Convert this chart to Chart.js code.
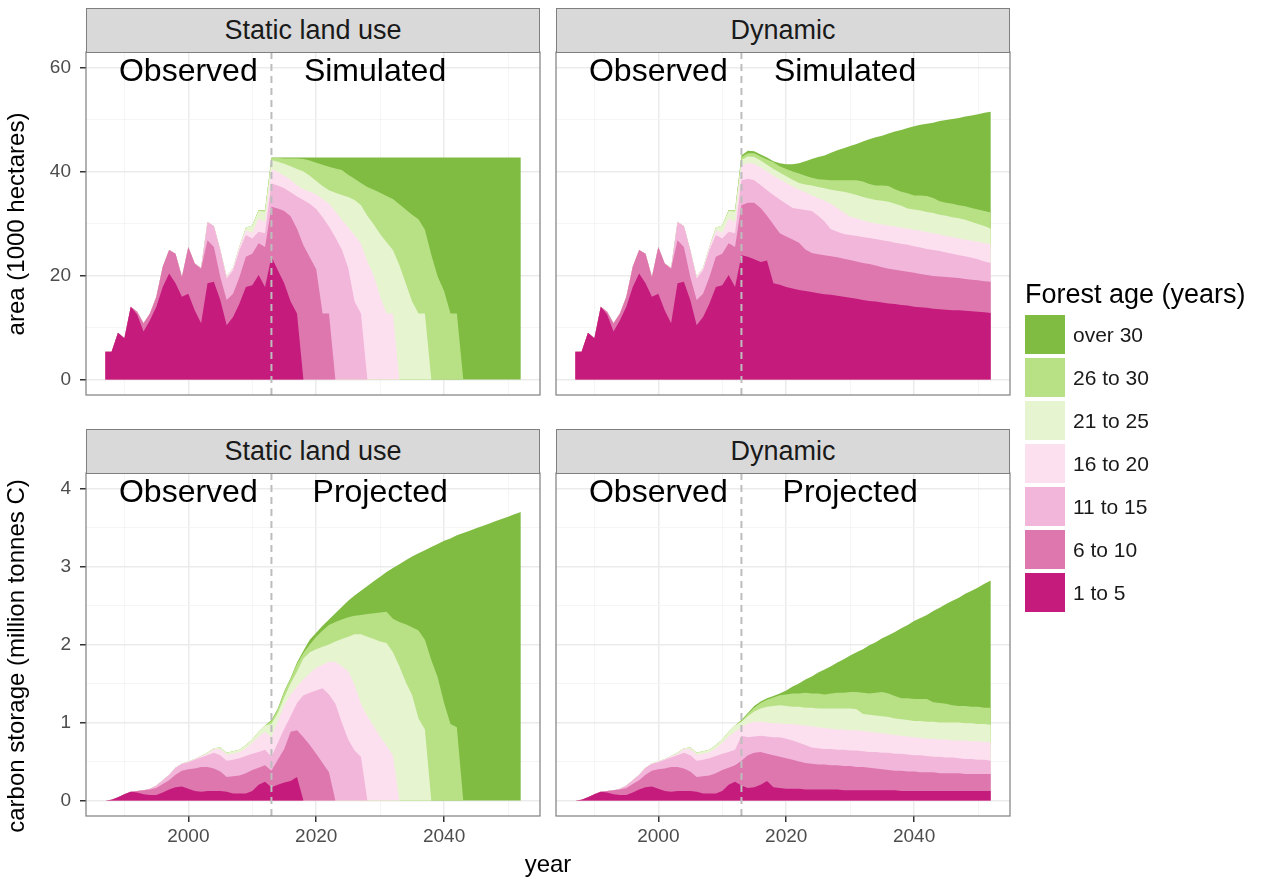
<!DOCTYPE html>
<html>
<head>
<meta charset="utf-8">
<script src="https://cdn.jsdelivr.net/npm/chart.js@4.4.1/dist/chart.umd.min.js"></script>
<style>
  html, body { margin: 0; padding: 0; background: #fff; }
  #page { position: relative; width: 1262px; height: 881px; overflow: hidden;
          font-family: "Liberation Sans", Arial, Helvetica, sans-serif; }
  #page canvas { position: absolute; left: 0; top: 0; }
  .strip { position: absolute; box-sizing: border-box; height: 45px; background: #d9d9d9;
           border: 1px solid #7f7f7f; color: #1a1a1a; font-size: 27px; line-height: 42px;
           text-align: center; }
  .xtitle { position: absolute; left: 448px; width: 200px; top: 849px; height: 30px;
            line-height: 30px; text-align: center; font-size: 24px; color: #000; }
  .ytitle { position: absolute; width: 440px; height: 28px; line-height: 28px; text-align: center;
            font-size: 24px; color: #000; white-space: nowrap; transform: rotate(-90deg);
            transform-origin: 50% 50%; }
  #legend { position: absolute; left: 1025px; top: 279px; }
  #legend .ltitle { font-size: 27px; line-height: 30px; color: #000; white-space: nowrap; }
  #legend .row { position: relative; height: 43px; }
  #legend .key { position: absolute; left: 0; top: 0; width: 40px; height: 39px; }
  #legend .lab { position: absolute; left: 48px; top: 0; height: 39px; line-height: 39px;
                 font-size: 21px; color: #1a1a1a; white-space: nowrap; }
</style>
</head>
<body>
<div id="page">
  <canvas id="areaStatic" width="1262" height="881"></canvas>
  <canvas id="areaDynamic" width="1262" height="881"></canvas>
  <canvas id="carbonStatic" width="1262" height="881"></canvas>
  <canvas id="carbonDynamic" width="1262" height="881"></canvas>
  <div class="strip" style="left:86px; top:8px; width:454px;">Static land use</div>
  <div class="strip" style="left:556px; top:8px; width:454px;">Dynamic</div>
  <div class="strip" style="left:86px; top:429px; width:454px;">Static land use</div>
  <div class="strip" style="left:556px; top:429px; width:454px;">Dynamic</div>
  <div class="ytitle" style="left:-204px; top:210px;">area (1000 hectares)</div>
  <div class="ytitle" style="left:-204px; top:642px;">carbon storage (million tonnes C)</div>
  <div class="xtitle">year</div>
  <div id="legend"><div class="ltitle">Forest age (years)</div><div style="height:6px"></div></div>
</div>
<script>
const obsYears = [1987, 1988, 1989, 1990, 1991, 1992, 1993, 1994, 1995, 1996, 1997, 1998, 1999,
  2000, 2001, 2002, 2003, 2004, 2005, 2006, 2007, 2008, 2009, 2010, 2011, 2012]
const simYears = [2013, 2014, 2015, 2016, 2017, 2018, 2019, 2020, 2021, 2022,
  2023, 2024, 2025, 2026, 2027, 2028, 2029, 2030, 2031, 2032,
  2033, 2034, 2035, 2036, 2037, 2038, 2039, 2040, 2041, 2042,
  2043, 2044, 2045, 2046, 2047, 2048, 2049, 2050, 2051, 2052]

const ageClasses = ['1 to 5', '6 to 10', '11 to 15', '16 to 20', '21 to 25', '26 to 30', 'over 30']
const ageColors = ['#c51b7d', '#de77ae', '#f1b6da', '#fde0ef', '#e6f5d0', '#b8e186', '#7fbc41']

const xTicks = [1990, 2000, 2010, 2020, 2030, 2040, 2050]
const xLabels = [2000, 2020, 2040]
const areaTicks = [0, 10, 20, 30, 40, 50, 60]
const areaLabels = [0, 20, 40, 60]
const carbonTicks = [0, 0.5, 1, 1.5, 2, 2.5, 3, 3.5, 4]
const carbonLabels = [0, 1, 2, 3, 4]
const dividerYear = 2013
const areaPeriodYears = [2000, 2029.2]
const carbonPeriodYears = [2000, 2030]

// area (1000 ha) by age class, observed 1987-2012 (same in both scenarios)
const obsArea = [
  [5.3, 5.3, 9.0, 7.9, 14.0, 12.5, 9.2, 11.4, 14.0, 17.8, 20.4, 18.5, 15.9, 16.5, 13.3, 10.8, 18.5, 18.8, 15.3, 10.4, 12.0, 14.6, 17.8, 18.1, 20.1, 17.8],
  [0, 0, 0, 0, 0, 0.5, 1.6, 1.3, 1.9, 3.9, 4.5, 5.7, 3.8, 9.0, 9.0, 10.5, 8.3, 6.7, 4.4, 4.9, 4.5, 5.1, 5.8, 6.1, 6.1, 7.7],
  [0, 0, 0, 0, 0, 0, 0, 0, 0, 0, 0, 0, 0, 0, 0, 0.2, 3.5, 4.0, 5.2, 4.1, 4.5, 5.2, 4.2, 2.9, 2.2, 2.6],
  [0, 0, 0, 0, 0, 0, 0, 0, 0, 0, 0, 0, 0, 0, 0, 0, 0, 0, 0, 0.4, 0.5, 0.7, 0.9, 1.1, 2.6, 2.2],
  [0, 0, 0, 0, 0, 0, 0, 0, 0, 0, 0, 0, 0, 0, 0, 0, 0, 0, 0, 0, 0, 0, 0.5, 1.4, 1.4, 2.0],
  [0, 0, 0, 0, 0, 0, 0, 0, 0, 0, 0, 0, 0, 0, 0, 0, 0, 0, 0, 0, 0, 0, 0, 0, 0.2, 0.3],
  [0, 0, 0, 0, 0, 0, 0, 0, 0, 0, 0, 0, 0, 0, 0, 0, 0, 0, 0, 0, 0, 0, 0, 0, 0, 0],
]

// area, simulated 2013-2052, static land use
const staticArea = [
  [23.6, 21.0, 18.5, 15.0, 12.7, 0, 0, 0, 0, 0, 0, 0, 0, 0, 0, 0, 0, 0, 0, 0, 0, 0, 0, 0, 0, 0, 0, 0, 0, 0, 0, 0, 0, 0, 0, 0, 0, 0, 0, 0],
  [9.6, 11.9, 13.9, 16.4, 16.3, 25.8, 23.5, 21.2, 12.7, 12.7, 0, 0, 0, 0, 0, 0, 0, 0, 0, 0, 0, 0, 0, 0, 0, 0, 0, 0, 0, 0, 0, 0, 0, 0, 0, 0, 0, 0, 0, 0],
  [4.5, 4.4, 4.4, 4.6, 6.2, 8.7, 10.3, 11.6, 18.5, 16.7, 27.3, 25.0, 21.5, 15.0, 12.7, 0, 0, 0, 0, 0, 0, 0, 0, 0, 0, 0, 0, 0, 0, 0, 0, 0, 0, 0, 0, 0, 0, 0, 0, 0],
  [2.8, 2.6, 2.4, 2.4, 2.1, 2.1, 2.3, 2.8, 3.5, 4.4, 5.0, 5.7, 7.8, 12.8, 13.4, 22.7, 20.0, 16.0, 12.7, 12.7, 0, 0, 0, 0, 0, 0, 0, 0, 0, 0, 0, 0, 0, 0, 0, 0, 0, 0, 0, 0],
  [1.7, 2.0, 2.3, 2.6, 3.2, 3.4, 3.1, 2.6, 2.5, 2.6, 3.6, 4.8, 5.8, 6.7, 7.4, 8.8, 9.8, 12.0, 13.7, 12.2, 22.0, 18.5, 15.0, 12.7, 12.7, 0, 0, 0, 0, 0, 0, 0, 0, 0, 0, 0, 0, 0, 0, 0],
  [0.4, 0.7, 1.0, 1.5, 2.0, 2.4, 2.9, 3.5, 4.1, 4.5, 4.7, 4.8, 4.3, 4.1, 4.3, 5.5, 6.7, 7.9, 8.9, 9.8, 11.7, 14.2, 16.7, 18.1, 16.1, 24.0, 19.8, 17.0, 12.7, 12.7, 0, 0, 0, 0, 0, 0, 0, 0, 0, 0],
  [0.1, 0.1, 0.2, 0.2, 0.2, 0.3, 0.6, 1.0, 1.4, 1.8, 2.1, 2.4, 3.3, 4.1, 4.9, 5.7, 6.2, 6.8, 7.4, 8.0, 9.0, 10.0, 11.0, 11.9, 13.9, 18.7, 22.9, 25.7, 30.0, 30.0, 42.7, 42.7, 42.7, 42.7, 42.7, 42.7, 42.7, 42.7, 42.7, 42.7],
]

// area, simulated 2013-2052, dynamic land use
const dynamicArea = [
  [23.9, 23.6, 23.1, 22.6, 22.9, 18.5, 18.2, 17.8, 17.5, 17.2, 17.0, 16.8, 16.6, 16.4, 16.3, 16.1, 15.9, 15.7, 15.5, 15.3, 15.1, 15.0, 14.8, 14.6, 14.5, 14.3, 14.2, 14.0, 13.9, 13.8, 13.6, 13.5, 13.4, 13.3, 13.3, 13.2, 13.1, 13.0, 12.9, 12.8],
  [9.6, 10.4, 10.9, 10.4, 8.6, 11.3, 9.9, 9.7, 9.4, 9.1, 8.0, 7.5, 7.5, 7.5, 7.4, 7.4, 7.3, 7.3, 7.2, 7.1, 7.1, 6.9, 6.8, 6.7, 6.6, 6.6, 6.5, 6.5, 6.4, 6.3, 6.3, 6.3, 6.3, 6.3, 6.2, 6.1, 6.1, 6.1, 6.0, 6.0],
  [4.8, 4.6, 4.3, 4.4, 4.9, 5.7, 6.5, 6.3, 6.1, 6.5, 7.6, 8.1, 7.4, 6.5, 5.2, 4.9, 4.8, 4.8, 4.9, 5.0, 5.0, 5.1, 5.2, 5.3, 5.2, 5.2, 5.2, 5.1, 5.1, 5.0, 5.0, 4.9, 4.7, 4.6, 4.4, 4.4, 4.2, 4.0, 3.8, 3.6],
  [2.9, 3.1, 3.2, 3.4, 3.6, 3.7, 3.9, 4.0, 4.1, 3.7, 3.4, 3.0, 3.4, 4.0, 4.9, 4.6, 4.1, 3.5, 3.4, 3.2, 3.1, 3.0, 3.0, 3.0, 3.1, 3.1, 3.1, 3.2, 3.2, 3.2, 3.2, 3.2, 3.2, 3.2, 3.2, 3.2, 3.3, 3.4, 3.5, 3.6],
  [1.0, 1.2, 1.3, 1.3, 1.3, 1.3, 1.3, 1.3, 1.3, 1.3, 1.5, 1.9, 2.1, 2.4, 2.7, 3.3, 4.0, 4.5, 4.5, 4.5, 4.5, 4.5, 4.6, 4.6, 4.4, 4.2, 3.9, 3.9, 3.9, 3.9, 3.9, 3.8, 3.9, 3.8, 3.9, 3.8, 3.6, 3.4, 3.3, 3.0],
  [0.6, 0.6, 0.7, 0.8, 1.0, 1.3, 1.2, 1.4, 1.6, 1.8, 1.7, 1.5, 1.5, 1.6, 1.8, 2.0, 2.2, 2.5, 2.8, 3.0, 2.8, 2.8, 2.9, 3.0, 2.8, 2.7, 2.9, 2.7, 2.9, 3.1, 2.9, 2.6, 2.5, 2.6, 2.5, 2.6, 2.7, 2.8, 2.9, 3.1],
  [0.3, 0.5, 0.4, 0.4, 0.4, 0.2, 0.6, 0.9, 1.4, 2.0, 2.8, 3.6, 4.3, 4.7, 5.3, 5.8, 6.2, 6.6, 7.0, 7.7, 8.6, 9.3, 9.6, 10.1, 11.1, 11.9, 12.6, 13.3, 13.6, 13.9, 14.5, 15.4, 15.9, 16.3, 16.8, 17.3, 17.8, 18.3, 18.9, 19.4],
]

// carbon (million tonnes C) by age class, observed 1987-2012
const obsCarbon = [
  [0, 0.01, 0.04, 0.08, 0.11, 0.10, 0.08, 0.07, 0.07, 0.10, 0.14, 0.17, 0.18, 0.15, 0.12, 0.11, 0.12, 0.12, 0.12, 0.11, 0.09, 0.09, 0.09, 0.12, 0.20, 0.24],
  [0, 0, 0, 0, 0, 0.02, 0.05, 0.07, 0.09, 0.11, 0.12, 0.16, 0.20, 0.25, 0.29, 0.32, 0.31, 0.29, 0.25, 0.19, 0.22, 0.23, 0.26, 0.27, 0.22, 0.21],
  [0, 0, 0, 0, 0, 0, 0, 0.01, 0.03, 0.05, 0.07, 0.09, 0.09, 0.09, 0.11, 0.12, 0.15, 0.20, 0.21, 0.21, 0.21, 0.22, 0.22, 0.21, 0.20, 0.20],
  [0, 0, 0, 0, 0, 0, 0, 0, 0, 0, 0, 0, 0, 0.01, 0.01, 0.02, 0.02, 0.05, 0.08, 0.08, 0.08, 0.08, 0.10, 0.14, 0.20, 0.23],
  [0, 0, 0, 0, 0, 0, 0, 0, 0, 0, 0, 0, 0, 0, 0, 0, 0.01, 0.01, 0.02, 0.02, 0.03, 0.03, 0.04, 0.04, 0.06, 0.08],
  [0, 0, 0, 0, 0, 0, 0, 0, 0, 0, 0, 0, 0, 0, 0, 0, 0, 0, 0, 0, 0, 0, 0, 0, 0, 0],
  [0, 0, 0, 0, 0, 0, 0, 0, 0, 0, 0, 0, 0, 0, 0, 0, 0, 0, 0, 0, 0, 0, 0, 0, 0, 0],
]

// carbon, projected 2013-2052, static land use
const staticCarbon = [
  [0.17, 0.20, 0.23, 0.25, 0.30, 0, 0, 0, 0, 0, 0, 0, 0, 0, 0, 0, 0, 0, 0, 0, 0, 0, 0, 0, 0, 0, 0, 0, 0, 0, 0, 0, 0, 0, 0, 0, 0, 0, 0, 0],
  [0.21, 0.32, 0.43, 0.63, 0.60, 0.81, 0.71, 0.60, 0.48, 0.36, 0, 0, 0, 0, 0, 0, 0, 0, 0, 0, 0, 0, 0, 0, 0, 0, 0, 0, 0, 0, 0, 0, 0, 0, 0, 0, 0, 0, 0, 0],
  [0.18, 0.22, 0.26, 0.20, 0.35, 0.54, 0.67, 0.81, 0.96, 1.00, 1.24, 1.00, 0.78, 0.64, 0.56, 0, 0, 0, 0, 0, 0, 0, 0, 0, 0, 0, 0, 0, 0, 0, 0, 0, 0, 0, 0, 0, 0, 0, 0, 0],
  [0.25, 0.28, 0.30, 0.28, 0.21, 0.20, 0.25, 0.29, 0.30, 0.42, 0.54, 0.72, 0.88, 0.84, 0.68, 1.08, 0.95, 0.82, 0.70, 0.58, 0, 0, 0, 0, 0, 0, 0, 0, 0, 0, 0, 0, 0, 0, 0, 0, 0, 0, 0, 0],
  [0.17, 0.10, 0.10, 0.14, 0.19, 0.27, 0.27, 0.24, 0.23, 0.22, 0.26, 0.35, 0.44, 0.65, 0.89, 1.02, 1.12, 1.22, 1.32, 1.32, 1.72, 1.52, 1.35, 1.05, 0.91, 0, 0, 0, 0, 0, 0, 0, 0, 0, 0, 0, 0, 0, 0, 0],
  [0.04, 0.05, 0.07, 0.06, 0.10, 0.07, 0.10, 0.16, 0.21, 0.25, 0.25, 0.25, 0.25, 0.24, 0.25, 0.29, 0.33, 0.37, 0.40, 0.43, 0.57, 0.74, 0.87, 1.13, 1.15, 1.80, 1.58, 1.25, 0.98, 0.94, 0, 0, 0, 0, 0, 0, 0, 0, 0, 0],
  [0.01, 0.01, 0.01, 0.01, 0.02, 0.03, 0.06, 0.05, 0.06, 0.07, 0.11, 0.16, 0.21, 0.26, 0.31, 0.36, 0.41, 0.46, 0.51, 0.65, 0.74, 0.82, 0.91, 0.99, 1.15, 1.45, 1.71, 2.08, 2.38, 2.46, 3.43, 3.46, 3.49, 3.52, 3.55, 3.58, 3.61, 3.64, 3.67, 3.70],
]

// carbon, projected 2013-2052, dynamic land use
const dynamicCarbon = [
  [0.19, 0.16, 0.17, 0.20, 0.25, 0.17, 0.16, 0.15, 0.15, 0.15, 0.14, 0.14, 0.14, 0.14, 0.14, 0.14, 0.13, 0.13, 0.13, 0.13, 0.13, 0.13, 0.13, 0.13, 0.13, 0.12, 0.12, 0.12, 0.12, 0.12, 0.12, 0.12, 0.12, 0.12, 0.12, 0.12, 0.12, 0.12, 0.12, 0.12],
  [0.32, 0.42, 0.44, 0.42, 0.35, 0.41, 0.40, 0.39, 0.37, 0.35, 0.34, 0.33, 0.32, 0.32, 0.31, 0.31, 0.31, 0.31, 0.30, 0.30, 0.29, 0.28, 0.27, 0.26, 0.25, 0.26, 0.25, 0.25, 0.24, 0.24, 0.24, 0.23, 0.23, 0.23, 0.23, 0.22, 0.22, 0.22, 0.22, 0.22],
  [0.32, 0.23, 0.21, 0.21, 0.22, 0.23, 0.25, 0.25, 0.25, 0.24, 0.23, 0.21, 0.21, 0.20, 0.21, 0.20, 0.21, 0.20, 0.21, 0.20, 0.20, 0.21, 0.21, 0.22, 0.22, 0.22, 0.22, 0.21, 0.22, 0.21, 0.20, 0.21, 0.20, 0.20, 0.19, 0.19, 0.19, 0.18, 0.18, 0.17],
  [0.11, 0.18, 0.19, 0.18, 0.18, 0.18, 0.18, 0.19, 0.21, 0.23, 0.25, 0.27, 0.27, 0.27, 0.26, 0.26, 0.26, 0.26, 0.26, 0.26, 0.26, 0.25, 0.25, 0.24, 0.24, 0.23, 0.23, 0.23, 0.22, 0.22, 0.23, 0.22, 0.23, 0.22, 0.23, 0.24, 0.23, 0.24, 0.23, 0.24],
  [0.07, 0.09, 0.13, 0.17, 0.20, 0.22, 0.23, 0.23, 0.22, 0.23, 0.23, 0.24, 0.24, 0.25, 0.26, 0.27, 0.27, 0.28, 0.27, 0.22, 0.22, 0.22, 0.22, 0.22, 0.21, 0.21, 0.21, 0.21, 0.22, 0.22, 0.22, 0.22, 0.22, 0.23, 0.23, 0.22, 0.23, 0.22, 0.23, 0.22],
  [0.01, 0.03, 0.05, 0.07, 0.09, 0.11, 0.13, 0.15, 0.17, 0.17, 0.19, 0.18, 0.19, 0.18, 0.19, 0.20, 0.20, 0.21, 0.22, 0.27, 0.27, 0.29, 0.31, 0.30, 0.29, 0.27, 0.28, 0.28, 0.28, 0.29, 0.25, 0.25, 0.24, 0.22, 0.21, 0.22, 0.21, 0.22, 0.21, 0.22],
  [0.01, 0.01, 0.02, 0.02, 0.02, 0.02, 0.02, 0.05, 0.09, 0.13, 0.17, 0.22, 0.27, 0.32, 0.35, 0.39, 0.43, 0.47, 0.51, 0.56, 0.62, 0.65, 0.69, 0.75, 0.82, 0.90, 0.94, 1.00, 1.04, 1.08, 1.17, 1.22, 1.28, 1.34, 1.39, 1.44, 1.49, 1.53, 1.59, 1.63],
]

Chart.defaults.font.family = '"Liberation Sans", Arial, Helvetica, sans-serif'

// dashed divider, Observed / Simulated labels and the panel frame
const panelDecor = {
  id: 'panelDecor',
  afterDatasetsDraw(chart, args, opts) {
    const { ctx, chartArea: a, scales: { x, y } } = chart
    ctx.save()
    const xd = x.getPixelForValue(dividerYear)
    ctx.strokeStyle = '#bdbdbd'
    ctx.lineWidth = 2
    ctx.setLineDash([7, 5])
    ctx.beginPath()
    ctx.moveTo(xd, a.top)
    ctx.lineTo(xd, a.bottom)
    ctx.stroke()
    ctx.setLineDash([])

    ctx.fillStyle = '#000'
    ctx.font = '32px "Liberation Sans", Arial, Helvetica, sans-serif'
    ctx.textAlign = 'center'
    ctx.textBaseline = 'middle'
    opts.labels.forEach((text, i) => {
      ctx.fillText(text, x.getPixelForValue(opts.labelYears[i]), y.getPixelForValue(opts.labelY) + 5)
    })

    ctx.strokeStyle = '#7f7f7f'
    ctx.lineWidth = 1.2
    ctx.strokeRect(a.left, a.top, a.right - a.left, a.bottom - a.top)
    ctx.restore()
  }
}

function buildDatasets(obs, sim) {
  const years = obsYears.concat(simYears)
  return ageClasses.map((name, k) => ({
    label: name,
    data: years.map((yr, i) => ({
      x: yr,
      y: i < obsYears.length ? obs[k][i] : sim[k][i - obsYears.length],
    })),
    backgroundColor: ageColors[k],
    borderWidth: 0,
    pointRadius: 0,
    fill: 'origin',
  }))
}

function createPanel(id, { obs, sim, box, yTicks, yLabels, yMin, yMax, showX, showY, labels, labelY, labelYears }) {
  const gridColor = (majors) => (c) => (c.tick && majors.includes(c.tick.value)) ? '#ebebeb' : '#f3f3f3'
  const gridWidth = (majors) => (c) => (c.tick && majors.includes(c.tick.value)) ? 1.5 : 0.8
  const tickColor = (majors) => (c) => (c.tick && majors.includes(c.tick.value)) ? '#333333' : 'rgba(0,0,0,0)'
  const xAxisHeight = showX ? 881 - box.b : 0

  return new Chart(document.getElementById(id), {
    type: 'line',
    data: { datasets: buildDatasets(obs, sim) },
    plugins: [panelDecor],
    options: {
      responsive: false,
      animation: false,
      devicePixelRatio: 1,
      layout: {
        padding: {
          left: showY ? 0 : box.l,
          top: box.t,
          right: 1262 - box.r,
          bottom: 881 - box.b - xAxisHeight,
        }
      },
      plugins: {
        legend: { display: false },
        tooltip: { enabled: false },
        panelDecor: { labels, labelY, labelYears },
      },
      scales: {
        x: {
          type: 'linear',
          min: 1984,
          max: 2055,
          afterBuildTicks: (s) => { s.ticks = xTicks.map(v => ({ value: v })) },
          afterFit: (s) => { s.height = xAxisHeight },
          border: { display: false },
          grid: {
            color: gridColor(xLabels),
            lineWidth: gridWidth(xLabels),
            drawTicks: showX,
            tickLength: 6,
            tickColor: tickColor(xLabels),
          },
          ticks: {
            display: showX,
            autoSkip: false,
            maxRotation: 0,
            padding: 3,
            color: '#4d4d4d',
            font: { size: 19 },
            callback: (v) => xLabels.includes(v) ? String(v) : '',
          },
        },
        y: {
          stacked: true,
          min: yMin,
          max: yMax,
          afterBuildTicks: (s) => { s.ticks = yTicks.map(v => ({ value: v })) },
          afterFit: (s) => { s.width = showY ? box.l : 0 },
          border: { display: false },
          grid: {
            color: gridColor(yLabels),
            lineWidth: gridWidth(yLabels),
            drawTicks: showY,
            tickLength: 6,
            tickColor: tickColor(yLabels),
          },
          ticks: {
            display: showY,
            padding: 9,
            color: '#4d4d4d',
            font: { size: 19 },
            callback: (v) => yLabels.includes(v) ? String(v) : '',
          },
        },
      },
    },
  })
}

const areaAxis = { yTicks: areaTicks, yLabels: areaLabels, yMin: -3, yMax: 63,
  labelY: 60, labelYears: areaPeriodYears, labels: ['Observed', 'Simulated'] }
const carbonAxis = { yTicks: carbonTicks, yLabels: carbonLabels, yMin: -0.2, yMax: 4.2,
  labelY: 4, labelYears: carbonPeriodYears, labels: ['Observed', 'Projected'] }

createPanel('areaStatic', { ...areaAxis, obs: obsArea, sim: staticArea,
  box: { l: 86, t: 52, r: 540, b: 395 }, showX: false, showY: true })
createPanel('areaDynamic', { ...areaAxis, obs: obsArea, sim: dynamicArea,
  box: { l: 556, t: 52, r: 1010, b: 395 }, showX: false, showY: false })
createPanel('carbonStatic', { ...carbonAxis, obs: obsCarbon, sim: staticCarbon,
  box: { l: 86, t: 473, r: 540, b: 816 }, showX: true, showY: true })
createPanel('carbonDynamic', { ...carbonAxis, obs: obsCarbon, sim: dynamicCarbon,
  box: { l: 556, t: 473, r: 1010, b: 816 }, showX: true, showY: false })

// legend, oldest class on top as in the original
const legendEl = document.getElementById('legend')
ageClasses.map((name, k) => ({ name, color: ageColors[k] })).reverse().forEach(({ name, color }) => {
  const row = document.createElement('div')
  row.className = 'row'
  const key = document.createElement('div')
  key.className = 'key'
  key.style.background = color
  const lab = document.createElement('div')
  lab.className = 'lab'
  lab.textContent = name
  row.appendChild(key)
  row.appendChild(lab)
  legendEl.appendChild(row)
})
</script>
</body>
</html>
